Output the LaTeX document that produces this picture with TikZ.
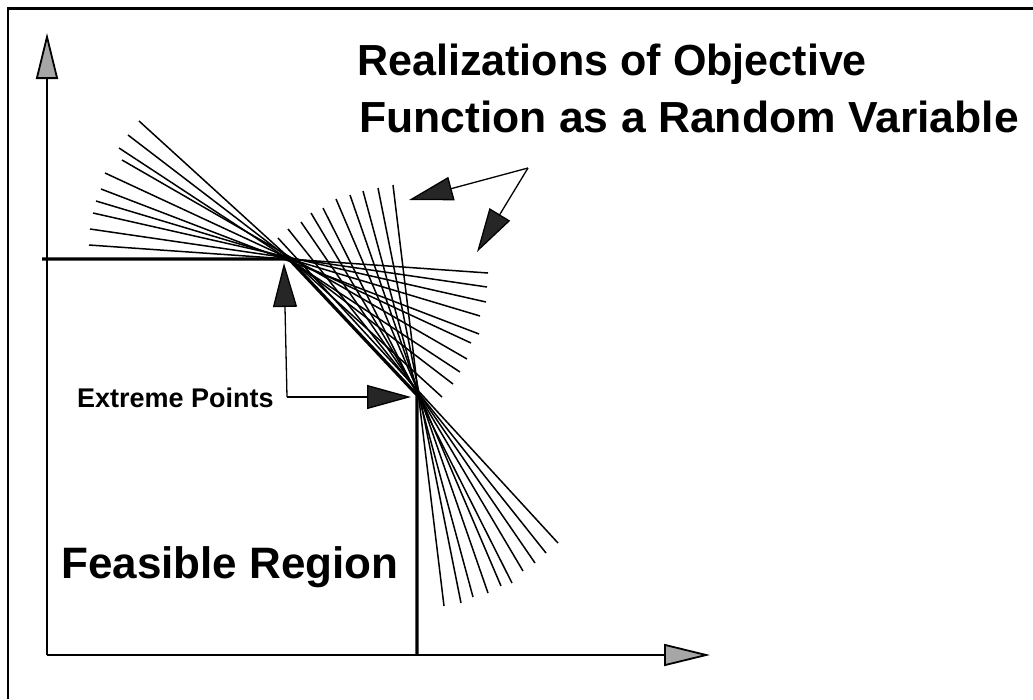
\documentclass[tikz,border=0pt]{standalone}
\usepackage{fontspec}
\setmainfont{Liberation Sans}
\usetikzlibrary{arrows.meta}
\begin{document}
\begin{tikzpicture}[x=1pt,y=-1pt,
  frame/.style={line width=2.5pt},
  bound/.style={line width=3.2pt},
  ray/.style={line width=1.5pt},
  pointer/.style={line width=1.3pt,-{Triangle[length=44pt,width=24pt,fill=black!85,line width=1.3pt]}},
  axisarrow/.style={line width=2pt,-{Triangle[length=46pt,width=22pt,fill=black!35,line width=1.8pt]}},
  lbl/.style={inner sep=0pt,anchor=base west}]
\useasboundingbox (0,0) rectangle (1033,699);
% frame
\draw[frame] (8,699) -- (8,8.5) -- (1033,8.5);
% axes
\coordinate (O) at (47,655);
\coordinate (ytip) at (47,33);
\coordinate (xtip) at (710,655);
\draw[axisarrow] (O) -- (ytip);
\draw[axisarrow] (O) -- (xtip);
% realizations through A
\foreach \la/\lb/\ra/\rb in {139/121/442/397, 128/135/453/384, 119/148/460/372,
  122/160/467/359, 105/173/471/343, 101/189/479/334, 96/201/480/316,
  93/213/486/302, 90/229/487/287, 89/245/488/273}
  \draw[ray] (\la,\lb) -- (\ra,\rb);
% realizations through B
\foreach \ua/\ub/\da/\db in {393/185/444/606, 378/188/461/603, 363/191/473/597,
  350/195/488/593, 336/199/501/586, 323/208/512/583, 311/213/523/571,
  301/222/535/563, 288/229/546/553, 278/238/558/543}
  \draw[ray] (\ua,\ub) -- (\da,\db);
% feasible region boundary
\coordinate (C0) at (42,259);
\coordinate (A) at (289,259);
\coordinate (B) at (417,395);
\coordinate (D) at (417,655);
\draw[bound] (C0) -- (A) -- (B) -- (D);
% labels
\node[lbl,font=\bfseries\fontsize{43.5}{50}\selectfont,xscale=0.99] (t1) at (357,75) {Realizations of Objective};
\node[lbl,font=\bfseries\fontsize{43.5}{50}\selectfont,xscale=1.022] (t2) at (359,132) {Function as a Random Variable};
\node[lbl,font=\bfseries\fontsize{44}{50}\selectfont] (feas) at (61,578) {Feasible Region};
\node[lbl,font=\bfseries\fontsize{27}{30}\selectfont] (ext) at (77,407) {Extreme Points};
% extreme point pointers
\coordinate (E) at (287,397);
\coordinate (Atip) at (284,263);
\coordinate (Btip) at (411,397);
\draw[pointer] (E) -- (Atip);
\draw[pointer] (E) -- (Btip);
% realization pointers
\coordinate (V) at (528,168);
\coordinate (T1) at (409,200);
\coordinate (T2) at (477,252);
\draw[pointer] (V) -- (T1);
\draw[pointer] (V) -- (T2);
\end{tikzpicture}
\end{document}
